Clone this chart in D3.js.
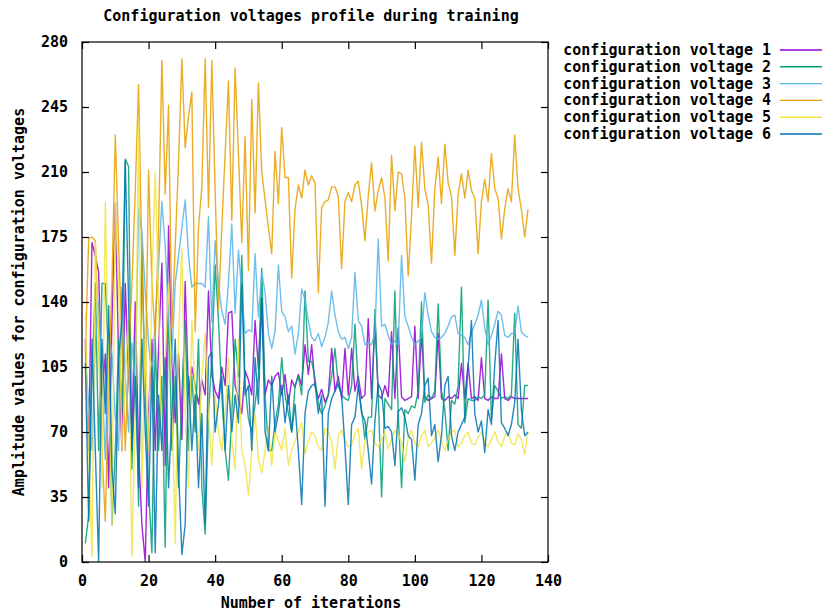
<!DOCTYPE html>
<html>
<head>
<meta charset="utf-8">
<script src="https://cdn.jsdelivr.net/npm/d3@7"></script>
<style>
  html, body { margin: 0; padding: 0; background: #fff; }
  svg text { font-family: "DejaVu Sans Mono", "Liberation Mono", monospace; font-weight: bold; fill: #000; }
</style>
</head>
<body>
<svg id="chart" width="825" height="613"></svg>
<script>
// Configuration voltages recorded at each training iteration
const v1 = [120,60,172,165,156,90,112,40,130,193,110,60,150,100,70,140,60,20,0,80,120,60,115,161,52,181,106,75,112,66,151,90,105,95,85,98,90,146,101,92,88,105,95,134,135,95,88,80,103,98,90,130,104,142,90,98,95,100,102,90,101,85,98,94,101,95,117,101,117,95,88,93,86,90,115,92,100,88,115,90,115,92,100,88,90,131,88,131,90,88,95,89,124,88,126,89,87,88,89,127,88,124,89,87,88,89,123,88,87,89,88,90,88,107,88,107,88,89,87,110,88,87,89,88,88,112,88,87,89,88,88,88,88,88];
const v2 = [10,25,100,150,60,150,150,110,20,60,120,80,217,213,50,120,30,170,90,40,5,120,60,100,8,140,60,100,40,90,130,60,100,70,120,40,15,80,110,160,130,90,60,44,80,120,100,165,95,77,70,85,100,158,90,60,60,75,85,110,90,80,70,95,100,90,146,108,108,99,85,80,84,90,100,115,95,90,88,87,95,128,95,82,66,78,78,136,90,35,88,85,82,146,80,40,82,80,84,83,92,140,86,90,88,92,139,92,82,60,87,85,95,148,75,88,87,87,89,88,90,141,77,95,92,88,89,88,90,134,74,72,95,95];
const v3 = [110,85,60,118,140,100,55,125,112,78,60,148,100,70,118,95,190,178,145,118,100,130,160,194,170,130,110,150,165,180,195,165,148,150,150,150,148,186,129,173,150,135,128,150,182,134,168,145,123,125,124,166,132,156,145,123,115,124,160,135,132,124,127,112,123,147,141,130,121,119,123,116,121,129,146,133,124,120,121,115,121,156,130,127,117,118,117,123,174,127,128,122,117,119,117,165,132,127,121,117,119,121,145,133,124,121,120,121,123,127,132,133,123,122,121,117,123,128,133,141,126,117,122,128,135,133,122,121,123,123,138,124,122,121];
const v4 = [112,174,175,173,120,60,22,95,150,230,170,120,60,110,150,200,257,160,90,211,150,120,180,270,198,246,126,170,215,271,223,240,253,124,180,202,271,191,270,200,136,180,220,259,184,266,220,172,229,157,249,188,258,210,195,180,166,221,193,234,207,207,153,190,203,196,211,203,208,204,145,191,194,195,202,202,197,158,194,199,194,203,205,192,173,197,215,189,200,207,196,162,219,189,210,209,196,154,186,224,191,226,201,192,161,201,218,193,225,204,197,165,198,209,196,211,200,196,166,194,206,194,220,201,196,174,190,201,194,230,201,190,175,190];
const v5 = [134,60,3,172,120,40,194,100,20,194,150,60,100,130,3,80,237,40,120,60,150,210,140,60,110,150,90,10,120,169,80,40,130,90,60,100,123,80,52,90,70,60,80,110,65,50,120,60,52,36,60,80,55,48,60,72,52,70,65,60,72,52,60,65,70,75,58,65,70,68,62,60,72,70,65,50,68,71,66,62,63,69,72,50,66,70,71,64,62,66,70,61,66,71,69,64,54,67,71,64,62,68,71,62,64,67,71,65,60,66,70,71,62,64,68,70,64,63,67,70,65,62,66,70,65,62,68,70,64,63,69,66,58,70];
const v6 = [107,22,120,60,0,120,80,138,50,26,110,130,216,140,60,100,40,120,70,30,105,5,90,60,110,40,80,120,50,4,20,100,60,90,40,80,20,110,113,70,85,100,60,95,70,90,75,150,90,95,60,110,85,142,70,60,100,70,80,95,75,90,70,85,60,31,80,92,95,96,80,90,30,80,88,92,96,90,62,31,74,78,95,80,76,60,42,76,96,92,72,73,70,52,81,83,78,68,66,44,74,80,95,99,68,74,54,68,95,100,68,60,70,74,78,105,130,80,70,76,59,82,74,106,130,75,72,68,74,86,120,82,68,70];

const seriesNames = ["configuration voltage 1","configuration voltage 2","configuration voltage 3",
                     "configuration voltage 4","configuration voltage 5","configuration voltage 6"];
const seriesColors = ["#9400d3","#009e73","#56b4e9","#e69f00","#f0e442","#0072b2"];
const seriesValues = [v1, v2, v3, v4, v5, v6];

const xTicks = [0,20,40,60,80,100,120,140];
const yTicks = [0,35,70,105,140,175,210,245,280];

const titleText = "Configuration voltages profile during training";
const xLabel = "Number of iterations";
const yLabel = "Amplitude values for configuration voltages";

const svg = d3.select("#chart");
const plot = { left: 82, right: 548, top: 42, bottom: 562 };

const x = d3.scaleLinear().domain([0, 140]).range([plot.left, plot.right]);
const y = d3.scaleLinear().domain([0, 280]).range([plot.bottom, plot.top]);

svg.append("defs").append("clipPath").attr("id", "plotClip")
  .append("rect")
  .attr("x", plot.left).attr("y", plot.top)
  .attr("width", plot.right - plot.left).attr("height", plot.bottom - plot.top);

// Series lines
const line = d3.line().x((d, i) => x(i + 1)).y(d => y(d));
const gLines = svg.append("g").attr("clip-path", "url(#plotClip)");
seriesValues.forEach((vals, k) => {
  gLines.append("path")
    .datum(vals)
    .attr("d", line)
    .attr("fill", "none")
    .attr("stroke", seriesColors[k])
    .attr("stroke-width", 1.4)
    .attr("stroke-opacity", 0.85)
    .attr("stroke-linejoin", "round");
});

// Axes with inward ticks on all four sides
const tickLen = 7;
const axisFont = "15px";
const gB = svg.append("g").attr("transform", `translate(0,${plot.bottom})`)
  .call(d3.axisBottom(x).tickValues(xTicks).tickSizeInner(-tickLen).tickSizeOuter(0).tickPadding(13));
const gT = svg.append("g").attr("transform", `translate(0,${plot.top})`)
  .call(d3.axisTop(x).tickValues(xTicks).tickSizeInner(-tickLen).tickSizeOuter(0).tickFormat(""));
const gL = svg.append("g").attr("transform", `translate(${plot.left},0)`)
  .call(d3.axisLeft(y).tickValues(yTicks).tickSizeInner(-tickLen).tickSizeOuter(0).tickPadding(14));
const gR = svg.append("g").attr("transform", `translate(${plot.right},0)`)
  .call(d3.axisRight(y).tickValues(yTicks).tickSizeInner(-tickLen).tickSizeOuter(0).tickFormat(""));

[gB, gT, gL, gR].forEach(g => {
  g.select(".domain").remove();
  g.selectAll(".tick line").attr("stroke", "#000").attr("stroke-width", 1.2);
  g.selectAll(".tick text").style("font-size", axisFont)
    .style("font-family", "'DejaVu Sans Mono', monospace").style("font-weight", "bold").attr("fill", "#000");
});

// Frame
svg.append("rect")
  .attr("x", plot.left).attr("y", plot.top)
  .attr("width", plot.right - plot.left).attr("height", plot.bottom - plot.top)
  .attr("fill", "none").attr("stroke", "#000").attr("stroke-width", 1.2);

// Title and axis labels
svg.append("text").attr("x", 311).attr("y", 21).attr("text-anchor", "middle")
  .style("font-size", "15px").text(titleText);
svg.append("text").attr("x", 311).attr("y", 608).attr("text-anchor", "middle")
  .style("font-size", "15px").text(xLabel);
svg.append("text").attr("transform", `translate(24,${(plot.top + plot.bottom) / 2}) rotate(-90)`)
  .attr("text-anchor", "middle").style("font-size", "15px").text(yLabel);

// Legend
const legend = svg.append("g");
seriesNames.forEach((name, k) => {
  const ly = 50 + k * 16.8;
  legend.append("text").attr("x", 771).attr("y", ly + 5).attr("text-anchor", "end")
    .style("font-size", "15px").text(name);
  legend.append("line").attr("x1", 780).attr("x2", 822).attr("y1", ly).attr("y2", ly)
    .attr("stroke", seriesColors[k]).attr("stroke-width", 1.4);
});
</script>
</body>
</html>
